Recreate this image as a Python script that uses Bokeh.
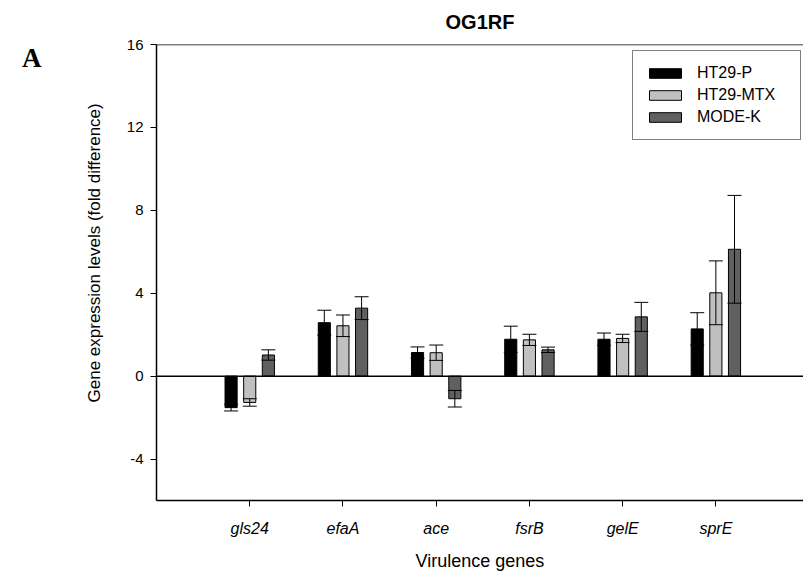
import numpy as np
from bokeh.plotting import figure
from bokeh.models import (ColumnDataSource, Range1d, FixedTicker, Whisker, TeeHead,
                          Legend, LegendItem, Span, Title, LinearAxis)
from bokeh.embed import file_html
from bokeh.resources import INLINE

genes = ["gls24", "efaA", "ace", "fsrB", "gelE", "sprE"]
series = ["HT29-P", "HT29-MTX", "MODE-K"]
ht29p = [-1.52, 2.58, 1.14, 1.78, 1.78, 2.28]
ht29p_err = [0.16, 0.60, 0.27, 0.63, 0.30, 0.78]
ht29mtx = [-1.27, 2.43, 1.13, 1.75, 1.82, 4.02]
ht29mtx_err = [0.18, 0.52, 0.37, 0.27, 0.20, 1.54]
modek = [1.02, 3.28, -1.09, 1.27, 2.86, 6.12]
modek_err = [0.25, 0.55, 0.40, 0.13, 0.70, 2.60]
y_ticks = [-4, 0, 4, 8, 12, 16]
y_tick_labels = ["-4", "0", "4", "8", "12", "16"]

colors = ["#000000", "#c0c0c0", "#606060"]
offsets = [-0.2, 0.0, 0.2]
bar_w = 0.13
FONT = "Liberation Sans"

p = figure(width=803, height=576, output_backend="svg", toolbar_location=None,
           x_range=Range1d(0, 6.94), y_range=Range1d(-6, 16),
           min_border_left=156, min_border_right=0, min_border_top=44, min_border_bottom=76)
p.title.text = ""
p.xgrid.visible = False
p.ygrid.visible = False
p.outline_line_color = None
p.background_fill_color = "white"
p.border_fill_color = "white"

pos = np.arange(1, len(genes) + 1)

items = []
for name, vals, errs, col, off in zip(series, [ht29p, ht29mtx, modek],
                                      [ht29p_err, ht29mtx_err, modek_err], colors, offsets):
    v = np.array(vals)
    e = np.array(errs)
    src = ColumnDataSource(dict(x=pos + off, top=v, upper=v + e, lower=v - e))
    r = p.vbar(x="x", top="top", bottom=0, width=bar_w, source=src,
               fill_color=col, line_color="black", line_width=1)
    w = Whisker(base="x", upper="upper", lower="lower", source=src,
                line_color="black", line_width=1, level="overlay",
                upper_head=TeeHead(size=14, line_color="black", line_width=1),
                lower_head=TeeHead(size=14, line_color="black", line_width=1))
    p.add_layout(w)
    items.append(LegendItem(label=name, renderers=[r]))

# zero line and top frame line
p.add_layout(Span(location=0, dimension="width", line_color="black", line_width=1.5))
p.add_layout(Span(location=p.y_range.end, dimension="width", line_color="black", line_width=1.5))

# axes
p.xaxis.ticker = FixedTicker(ticks=list(pos))
p.xaxis.major_label_overrides = {int(i): g for i, g in zip(pos, genes)}
p.xaxis.major_label_text_font_style = "italic"
p.xaxis.major_label_text_font_size = "16px"
p.xaxis.major_label_standoff = 13
p.xaxis.axis_label = "Virulence genes"
p.xaxis.axis_label_text_font = FONT
p.xaxis.axis_label_text_font_style = "normal"
p.xaxis.axis_label_text_font_size = "18px"
p.xaxis.axis_label_text_color = "black"
p.xaxis.axis_label_standoff = 11

p.yaxis.ticker = FixedTicker(ticks=y_ticks)
p.yaxis.major_label_overrides = {t: s for t, s in zip(y_ticks, y_tick_labels)}
p.yaxis.major_label_text_font_size = "15px"
p.yaxis.major_label_standoff = 7
for ax in (p.xaxis, p.yaxis):
    ax.major_label_text_font = FONT
    ax.major_label_text_color = "black"
    ax.axis_line_color = "black"
    ax.axis_line_width = 1.5
    ax.major_tick_line_color = "black"
    ax.major_tick_line_width = 1
    ax.major_tick_out = 6
    ax.major_tick_in = 0
    ax.minor_tick_line_color = None

# chart title as the label of a bare axis above the frame
top_axis = LinearAxis(ticker=FixedTicker(ticks=[]), axis_line_color=None,
                      major_tick_line_color=None, minor_tick_line_color=None,
                      major_tick_out=0, major_tick_in=0,
                      axis_label="OG1RF", axis_label_text_font=FONT,
                      axis_label_text_font_style="bold", axis_label_text_font_size="20px",
                      axis_label_text_color="black", axis_label_standoff=12)
p.add_layout(top_axis, "above")

# y axis title as a side title (shifted up like the original)
ytitle = Title(text="Gene expression levels (fold difference)", align="left", offset=98,
               text_font=FONT, text_font_style="normal", text_font_size="17px",
               text_color="black", standoff=39)
p.add_layout(ytitle, "left")

# panel letter "A" via an extra, otherwise invisible, left axis
a_axis = LinearAxis(ticker=FixedTicker(ticks=[15.33]), major_label_overrides={15.33: "A"},
                    axis_line_color=None, major_tick_line_color=None,
                    minor_tick_line_color=None, major_tick_out=0, major_tick_in=0,
                    major_label_text_font="Liberation Serif", major_label_text_font_style="bold",
                    major_label_text_font_size="27px", major_label_text_color="black",
                    major_label_standoff=22)
p.add_layout(a_axis, "left")

legend = Legend(items=items, location=(476, 360), border_line_color="black",
                border_line_width=1, background_fill_color="white", background_fill_alpha=1,
                label_text_font=FONT, label_text_font_size="16px", label_text_color="black",
                glyph_width=40, glyph_height=12, label_standoff=12, padding=12,
                spacing=2, label_height=20, label_width=91, margin=0)
p.add_layout(legend)

open("out.html", "w").write(file_html(p, INLINE))
